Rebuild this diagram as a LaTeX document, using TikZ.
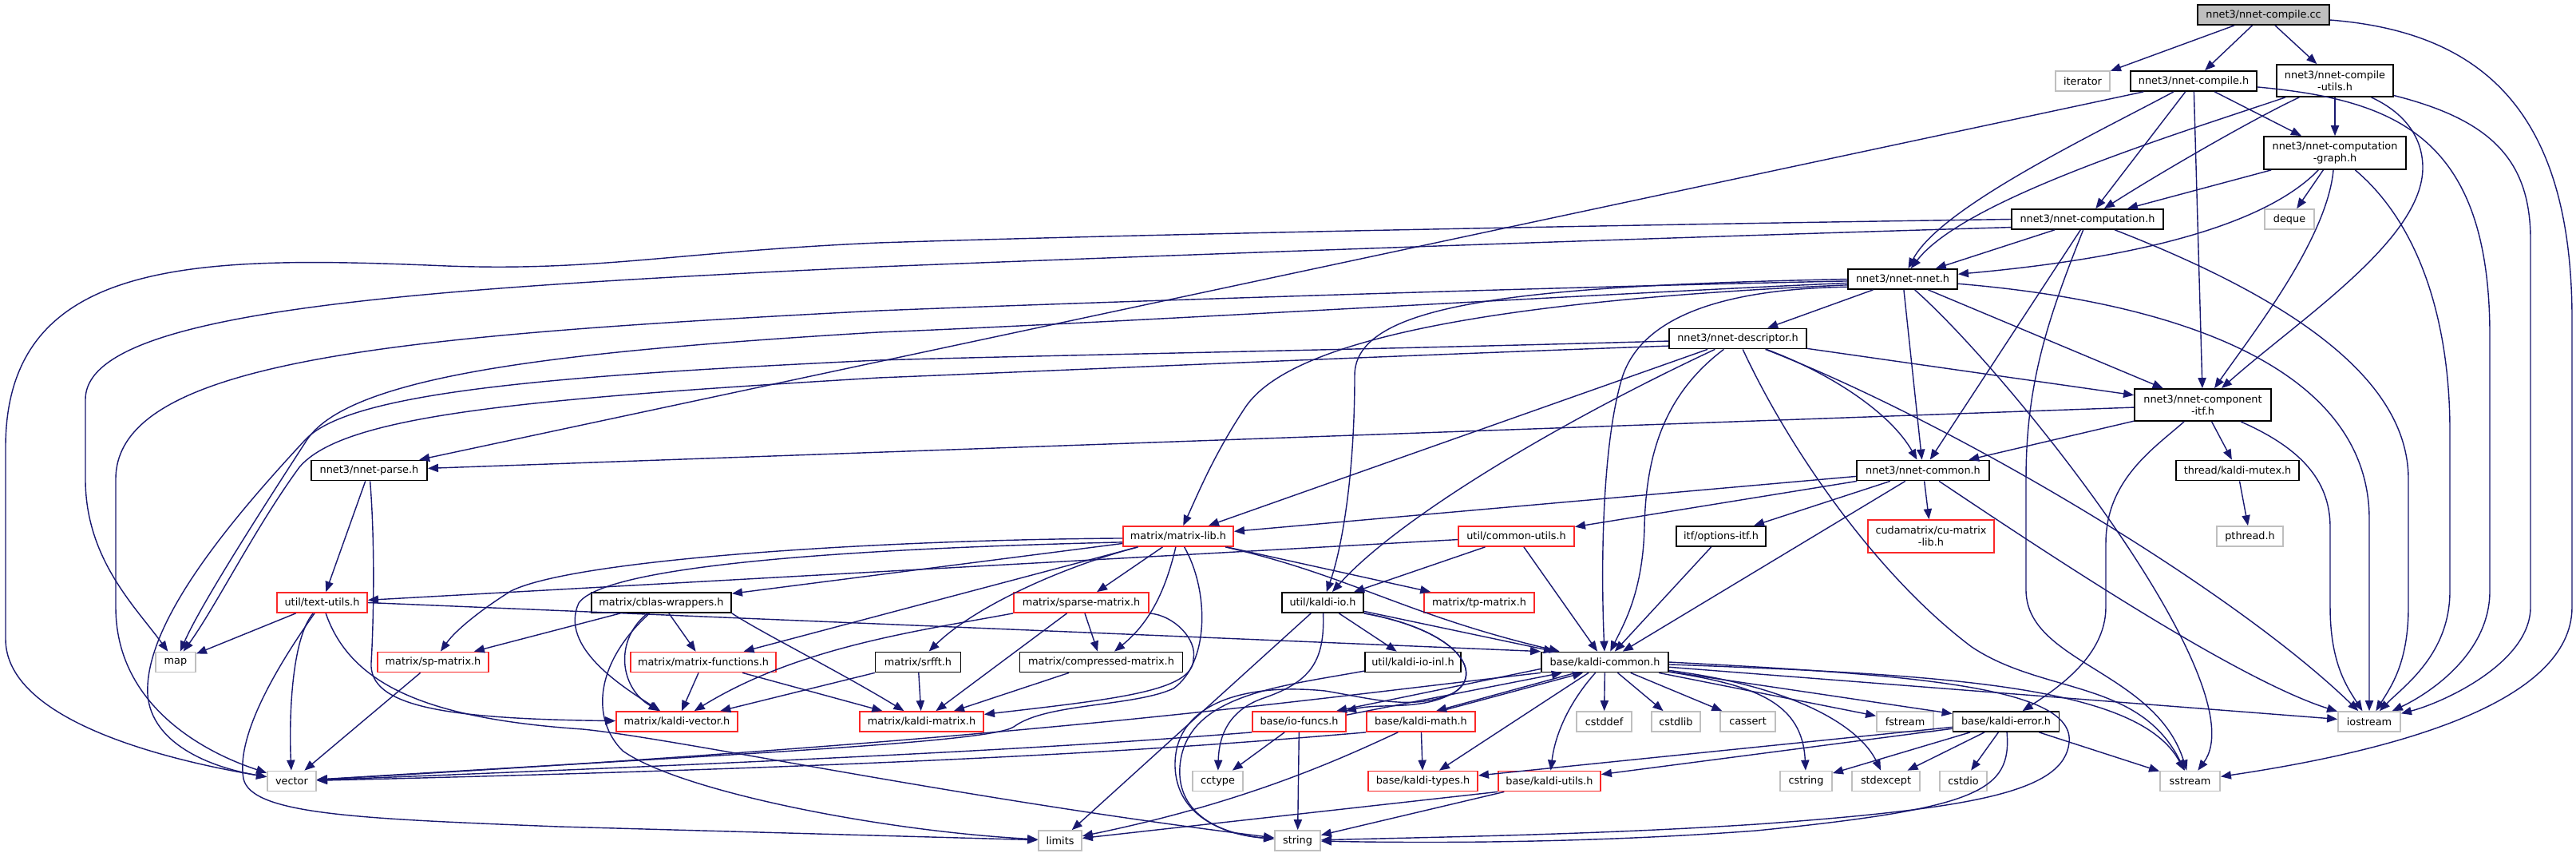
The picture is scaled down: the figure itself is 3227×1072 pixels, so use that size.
\documentclass[tikz,border=0pt]{standalone}
\usepackage{fontspec}
\setmainfont{DejaVu Sans}
\usetikzlibrary{arrows.meta}
\definecolor{edgeblue}{RGB}{25,25,112}
\definecolor{linkred}{RGB}{250,40,40}
\definecolor{sysgray}{RGB}{191,191,191}
\definecolor{rootgray}{RGB}{191,191,191}

\begin{document}
\begin{tikzpicture}[
    x=0.01cm, y=-0.01cm,
    hdr/.style={draw=black, line width=0.5pt, fill=white, minimum height=0.25cm, inner sep=0.8pt, align=center, font=\fontsize{3.65}{4.2}\selectfont},
    redhdr/.style={hdr, draw=linkred},
    sysbox/.style={hdr, draw=sysgray},
    rootbox/.style={hdr, fill=rootgray},
    dep/.style={draw=edgeblue, line width=0.4pt, -{Triangle[length=3.7pt,width=2.9pt]}}
]
\fill[white] (0,0) rectangle (3227,1072);
\useasboundingbox (0,0) rectangle (3227,1072);

% Files
\node[rootbox, minimum width=1.65cm] (cc) at (2835.5,18.5) {nnet3/nnet-compile.cc};
\node[sysbox, minimum width=0.68cm] (iterator) at (2609,101.5) {iterator};
\node[hdr, minimum width=1.58cm] (compile) at (2748,101.5) {nnet3/nnet-compile.h};
\node[hdr, minimum width=1.46cm, minimum height=0.4cm] (cutils) at (2925,101) {nnet3/nnet-compile\\-utils.h};
\node[hdr, minimum width=1.78cm, minimum height=0.41cm] (cgraph) at (2925,191.5) {nnet3/nnet-computation\\-graph.h};
\node[hdr, minimum width=1.9cm] (computation) at (2615,274.5) {nnet3/nnet-computation.h};
\node[sysbox, minimum width=0.62cm] (deque) at (2868,274.5) {deque};
\node[hdr, minimum width=1.37cm] (nnet) at (2383.5,349.5) {nnet3/nnet-nnet.h};
\node[hdr, minimum width=1.72cm] (descriptor) at (2177,424) {nnet3/nnet-descriptor.h};
\node[hdr, minimum width=1.71cm, minimum height=0.4cm] (compitf) at (2759.5,507) {nnet3/nnet-component\\-itf.h};
\node[hdr, minimum width=1.45cm] (parse) at (462.5,589) {nnet3/nnet-parse.h};
\node[hdr, minimum width=1.66cm] (common) at (2409,589) {nnet3/nnet-common.h};
\node[hdr, minimum width=1.54cm] (mutex) at (2803,589) {thread/kaldi-mutex.h};
\node[redhdr, minimum width=1.38cm] (matrixlib) at (1476,671.5) {matrix/matrix-lib.h};
\node[redhdr, minimum width=1.45cm] (commonutils) at (1899.5,671.5) {util/common-utils.h};
\node[hdr, minimum width=1.12cm] (options) at (2156,671.5) {itf/options-itf.h};
\node[redhdr, minimum width=1.58cm, minimum height=0.41cm] (cumatrix) at (2419,671.5) {cudamatrix/cu-matrix\\-lib.h};
\node[sysbox, minimum width=0.83cm] (pthread) at (2818.5,671.5) {pthread.h};
\node[redhdr, minimum width=1.13cm] (textutils) at (403.5,754.5) {util/text-utils.h};
\node[hdr, minimum width=1.75cm] (cblas) at (828.5,754.5) {matrix/cblas-wrappers.h};
\node[redhdr, minimum width=1.69cm] (sparse) at (1354.5,754.5) {matrix/sparse-matrix.h};
\node[hdr, minimum width=1.02cm] (kaldiio) at (1657,754.5) {util/kaldi-io.h};
\node[redhdr, minimum width=1.38cm] (tpmatrix) at (1853,754.5) {matrix/tp-matrix.h};
\node[sysbox, minimum width=0.5cm] (map) at (220,829) {map};
\node[redhdr, minimum width=1.39cm] (spmatrix) at (542.5,829) {matrix/sp-matrix.h};
\node[redhdr, minimum width=1.82cm] (matfun) at (881,829) {matrix/matrix-functions.h};
\node[hdr, minimum width=1.07cm] (srfft) at (1150,829) {matrix/srfft.h};
\node[hdr, minimum width=2.04cm] (compressed) at (1379.5,829) {matrix/compressed-matrix.h};
\node[hdr, minimum width=1.2cm] (kaldiioinl) at (1770,829) {util/kaldi-io-inl.h};
\node[hdr, minimum width=1.59cm] (kcommon) at (2010.5,829) {base/kaldi-common.h};
\node[redhdr, minimum width=1.52cm] (kvector) at (848,903.5) {matrix/kaldi-vector.h};
\node[redhdr, minimum width=1.55cm] (kmatrix) at (1154.5,903.5) {matrix/kaldi-matrix.h};
\node[redhdr, minimum width=1.17cm] (iofuncs) at (1627.5,903.5) {base/io-funcs.h};
\node[redhdr, minimum width=1.36cm] (kmath) at (1780,903.5) {base/kaldi-math.h};
\node[sysbox, minimum width=0.69cm] (cstddef) at (2009.5,903.5) {cstddef};
\node[sysbox, minimum width=0.61cm] (cstdlib) at (2099.5,903.5) {cstdlib};
\node[sysbox, minimum width=0.69cm] (cassert) at (2189.5,903.5) {cassert};
\node[sysbox, minimum width=0.71cm] (fstream) at (2386.5,903.5) {fstream};
\node[hdr, minimum width=1.33cm] (kerror) at (2513,903.5) {base/kaldi-error.h};
\node[sysbox, minimum width=0.78cm] (iostream) at (2968,903.5) {iostream};
\node[sysbox, minimum width=0.61cm] (vector) at (365.5,978) {vector};
\node[sysbox, minimum width=0.63cm] (cctype) at (1525.5,978) {cctype};
\node[redhdr, minimum width=1.37cm] (ktypes) at (1782.5,978) {base/kaldi-types.h};
\node[redhdr, minimum width=1.28cm] (kutils) at (1941,978) {base/kaldi-utils.h};
\node[sysbox, minimum width=0.65cm] (cstring) at (2262.5,978) {cstring};
\node[sysbox, minimum width=0.85cm] (stdexcept) at (2362.5,978) {stdexcept};
\node[sysbox, minimum width=0.59cm] (cstdio) at (2459.5,978) {cstdio};
\node[sysbox, minimum width=0.75cm] (sstream) at (2743.5,978) {sstream};
\node[sysbox, minimum width=0.54cm] (limits) at (1328,1052.5) {limits};
\node[sysbox, minimum width=0.57cm] (string) at (1625.5,1052.5) {string};

% nnet3/nnet-compile.cc
\draw[dep] (cc) -- (iterator);
\draw[dep] (cc) -- (compile);
\draw[dep] (cc) -- (cutils);
\draw[dep] (cc) .. controls (3110,40) and (3222,140) .. (3222,400) -- (3222,760) .. controls (3222,880) and (3000,940) .. (sstream);

% nnet3/nnet-compile.h
\draw[dep] (compile) -- (parse);
\draw[dep] (compile) .. controls (2620,170) and (2430,260) .. (nnet);
\draw[dep] (compile) -- (computation);
\draw[dep] (compile) -- (cgraph);
\draw[dep] (compile) -- (compitf);
\draw[dep] (compile) .. controls (3000,125) and (3119,170) .. (3119,420) -- (3119,740) .. controls (3119,820) and (3040,870) .. (iostream);

% nnet3/nnet-compile-utils.h
\draw[dep] (cutils) .. controls (2720,170) and (2460,250) .. (nnet);
\draw[dep] (cutils) .. controls (2820,150) and (2700,220) .. (computation);
\draw[dep] (cutils) -- (cgraph);
\draw[dep] (cutils) .. controls (3010,140) and (3035,170) .. (3035,210) .. controls (3035,300) and (2880,400) .. (compitf);
\draw[dep] (cutils) .. controls (3120,150) and (3170,200) .. (3170,300) -- (3170,760) .. controls (3170,830) and (3060,880) .. (iostream);

% nnet3/nnet-computation-graph.h
\draw[dep] (cgraph) -- (computation);
\draw[dep] (cgraph) .. controls (2820,300) and (2600,330) .. (nnet);
\draw[dep] (cgraph) -- (deque);
\draw[dep] (cgraph) .. controls (2915,300) and (2820,420) .. (compitf);
\draw[dep] (cgraph) .. controls (3030,280) and (3069,400) .. (3069,540) -- (3069,740) .. controls (3069,820) and (3010,860) .. (iostream);

% nnet3/nnet-computation.h
\draw[dep] (computation) -- (nnet);
\draw[dep] (computation) -- (common);
\draw[dep] (computation) .. controls (2565,400) and (2538,480) .. (2538,600) -- (2538,740) .. controls (2540,830) and (2700,840) .. (sstream);
\draw[dep] (computation) .. controls (2860,370) and (3017,470) .. (3017,600) -- (3017,760) .. controls (3017,830) and (2995,860) .. (iostream);
\draw[dep] (computation.180) .. controls (2000,282) and (1400,294) .. (1100,304) .. controls (850,315) and (750,340) .. (560,333) .. controls (250,320) and (7,320) .. (7,560) -- (7,800) .. controls (7,900) and (200,950) .. (vector);
\draw[dep] (computation.186) .. controls (2000,300) and (1400,322) .. (1100,334) .. controls (500,362) and (107,390) .. (107,500) -- (107,600) .. controls (107,700) and (170,760) .. (map);

% nnet3/nnet-nnet.h
\draw[dep] (nnet) -- (descriptor);
\draw[dep] (nnet) -- (common);
\draw[dep] (nnet) -- (compitf);
\draw[dep] (nnet) .. controls (2520,470) and (2830,860) .. (sstream);
\draw[dep] (nnet) .. controls (2750,380) and (2968,470) .. (2968,650) -- (iostream);
\draw[dep] (nnet.182) .. controls (2000,358) and (1400,377) .. (1100,389) .. controls (500,420) and (145,450) .. (145,600) -- (145,760) .. controls (145,880) and (250,940) .. (vector);
\draw[dep] (nnet.184) .. controls (2000,368) and (1400,404) .. (1100,416) .. controls (700,440) and (440,470) .. (385,550) .. controls (320,650) and (250,760) .. (map);
\draw[dep] (nnet.180) .. controls (1900,358) and (1697,380) .. (1697,470) .. controls (1697,600) and (1680,690) .. (kaldiio);
\draw[dep] (nnet.186) .. controls (1900,375) and (1620,420) .. (1560,510) .. controls (1520,570) and (1500,620) .. (matrixlib);
\draw[dep] (nnet.188) .. controls (2150,362) and (2050,400) .. (2030,480) .. controls (2008,560) and (2005,700) .. (kcommon);

% nnet3/nnet-descriptor.h
\draw[dep] (descriptor) .. controls (2300,470) and (2370,520) .. (common);
\draw[dep] (descriptor) .. controls (2240,560) and (2350,720) .. (2470,810) .. controls (2560,870) and (2680,850) .. (sstream);
\draw[dep] (descriptor) .. controls (2450,530) and (2800,740) .. (iostream);
\draw[dep] (descriptor) -- (compitf);
\draw[dep] (descriptor) .. controls (2090,490) and (2062,560) .. (2060,660) .. controls (2058,740) and (2035,780) .. (kcommon);
\draw[dep] (descriptor) -- (matrixlib);
\draw[dep] (descriptor) .. controls (1950,530) and (1750,650) .. (kaldiio);
\draw[dep] (descriptor.182) .. controls (1700,438) and (1300,445) .. (1100,451) .. controls (700,470) and (440,490) .. (383,550) .. controls (290,650) and (180,780) .. (185,870) .. controls (190,930) and (260,960) .. (vector);
\draw[dep] (descriptor.186) .. controls (1700,447) and (1300,465) .. (1100,473) .. controls (650,500) and (430,520) .. (375,585) .. controls (320,660) and (270,760) .. (map);

% nnet3/nnet-component-itf.h
\draw[dep] (compitf) -- (parse);
\draw[dep] (compitf) -- (common);
\draw[dep] (compitf) -- (mutex);
\draw[dep] (compitf) .. controls (2700,560) and (2638,600) .. (2638,680) -- (2638,760) .. controls (2638,820) and (2580,860) .. (kerror);
\draw[dep] (compitf) .. controls (2880,560) and (2919,600) .. (2919,660) -- (2919,760) .. controls (2919,830) and (2940,860) .. (iostream);

% nnet3/nnet-common.h
\draw[dep] (common) -- (matrixlib);
\draw[dep] (common) -- (commonutils);
\draw[dep] (common) -- (options);
\draw[dep] (common) -- (kcommon);
\draw[dep] (common) -- (cumatrix);
\draw[dep] (common) .. controls (2560,690) and (2800,850) .. (iostream);

\draw[dep] (mutex) -- (pthread);

% nnet3/nnet-parse.h
\draw[dep] (parse) -- (textutils);
\draw[dep] (parse) .. controls (470,680) and (468,780) .. (465,830) .. controls (462,885) and (560,900) .. (kvector);

% util/text-utils.h
\draw[dep] (textutils) -- (map);
\draw[dep] (textutils) .. controls (365,800) and (362,900) .. (vector);
\draw[dep] (textutils) .. controls (350,830) and (295,920) .. (305,975) .. controls (315,1020) and (450,1025) .. (700,1035) -- (limits);
\draw[dep] (textutils) .. controls (440,860) and (540,900) .. (730,913) .. controls (850,925) and (1200,1000) .. (string);
\draw[dep] (textutils.east) -- (kcommon.north west);

% util/common-utils.h, itf/options-itf.h
\draw[dep] (commonutils) -- (textutils);
\draw[dep] (commonutils) -- (kaldiio);
\draw[dep] (commonutils) -- (kcommon);
\draw[dep] (options) -- (kcommon);

% matrix/matrix-lib.h
\draw[dep] (matrixlib.182) .. controls (1100,676) and (720,700) .. (640,740) .. controls (600,765) and (570,790) .. (spmatrix);
\draw[dep] (matrixlib.186) .. controls (1100,686) and (760,705) .. (725,755) .. controls (700,810) and (780,860) .. (kvector);
\draw[dep] (matrixlib) -- (cblas);
\draw[dep] (matrixlib) -- (matfun);
\draw[dep] (matrixlib) .. controls (1330,710) and (1220,760) .. (srfft);
\draw[dep] (matrixlib) -- (sparse);
\draw[dep] (matrixlib) .. controls (1460,740) and (1440,780) .. (compressed);
\draw[dep] (matrixlib) -- (tpmatrix);
\draw[dep] (matrixlib) .. controls (1690,720) and (1760,770) .. (kcommon);
\draw[dep] (matrixlib) .. controls (1515,740) and (1515,830) .. (1470,862) .. controls (1420,885) and (1310,880) .. (1270,910) .. controls (1240,930) and (900,945) .. (vector);

% matrix/sparse-matrix.h
\draw[dep] (sparse.south west) .. controls (1150,790) and (1000,810) .. (kvector);
\draw[dep] (sparse) -- (kmatrix);
\draw[dep] (sparse) -- (compressed);
\draw[dep] (sparse.south east) .. controls (1470,770) and (1500,800) .. (1495,825) .. controls (1495,865) and (1400,875) .. (kmatrix);

% matrix/cblas-wrappers.h
\draw[dep] (cblas) -- (spmatrix);
\draw[dep] (cblas) .. controls (770,800) and (775,860) .. (kvector);
\draw[dep] (cblas) -- (matfun);
\draw[dep] (cblas.south east) .. controls (950,790) and (1050,840) .. (kmatrix);
\draw[dep] (cblas) .. controls (745,830) and (740,900) .. (780,940) .. controls (850,990) and (1100,1040) .. (limits);

\draw[dep] (spmatrix) -- (vector);
\draw[dep] (matfun) -- (kvector);
\draw[dep] (matfun) -- (kmatrix);
\draw[dep] (srfft) -- (kvector);
\draw[dep] (srfft) -- (kmatrix);
\draw[dep] (compressed) -- (kmatrix);

% util/kaldi-io.h
\draw[dep] (kaldiio) -- (kaldiioinl);
\draw[dep] (kaldiio) -- (kcommon);
\draw[dep] (kaldiio) -- (limits);
\draw[dep] (kaldiio) .. controls (1660,830) and (1640,855) .. (1580,875) .. controls (1540,890) and (1527,920) .. (cctype);
\draw[dep] (kaldiio.south east) .. controls (1830,790) and (1860,845) .. (1820,868) .. controls (1780,890) and (1730,880) .. (iofuncs);
\draw[dep] (kaldiio.south east) .. controls (1830,790) and (1860,845) .. (1820,868) .. controls (1770,890) and (1720,875) .. (1660,865) .. controls (1560,855) and (1470,880) .. (1472,960) .. controls (1474,1020) and (1530,1045) .. (string);
\draw[dep] (kaldiioinl) .. controls (1600,860) and (1485,870) .. (1478,960) .. controls (1474,1020) and (1530,1045) .. (string);

% base/kaldi-common.h
\draw[dep] (kcommon.186) -- (iofuncs.16);
\draw[dep] (iofuncs.8) -- (kcommon.194);
\draw[dep] (kcommon.200) -- (kmath.35);
\draw[dep] (kmath.28) -- (kcommon.206);
\draw[dep] (kcommon) -- (ktypes);
\draw[dep] (kcommon) .. controls (1965,880) and (1948,920) .. (kutils);
\draw[dep] (kcommon) -- (cstddef);
\draw[dep] (kcommon) -- (cstdlib);
\draw[dep] (kcommon) -- (cassert);
\draw[dep] (kcommon) -- (fstream);
\draw[dep] (kcommon) -- (kerror);
\draw[dep] (kcommon) .. controls (2200,858) and (2258,880) .. (cstring);
\draw[dep] (kcommon) .. controls (2250,860) and (2330,910) .. (stdexcept);
\draw[dep] (kcommon.east) .. controls (2400,845) and (2600,860) .. (2592,930) .. controls (2585,990) and (2480,1012) .. (2200,1032) .. controls (2000,1045) and (1800,1048) .. (string);
\draw[dep] (kcommon) .. controls (2450,845) and (2680,860) .. (sstream);
\draw[dep] (kcommon) -- (iostream);
\draw[dep] (kcommon.south west) .. controls (1600,880) and (1300,925) .. (vector);

% base/io-funcs.h, base/kaldi-math.h, base/kaldi-utils.h
\draw[dep] (iofuncs) -- (cctype);
\draw[dep] (iofuncs) -- (string);
\draw[dep] (iofuncs.south west) .. controls (1400,930) and (1200,945) .. (vector);
\draw[dep] (kmath) -- (ktypes);
\draw[dep] (kmath) .. controls (1680,950) and (1560,1005) .. (limits);
\draw[dep] (kmath.south west) .. controls (1500,935) and (1200,958) .. (vector);
\draw[dep] (kutils.south west) -- (limits);
\draw[dep] (kutils) -- (string);

% base/kaldi-error.h
\draw[dep] (kerror) -- (ktypes);
\draw[dep] (kerror) -- (kutils);
\draw[dep] (kerror) -- (cstring);
\draw[dep] (kerror) -- (stdexcept);
\draw[dep] (kerror) -- (cstdio);
\draw[dep] (kerror) -- (sstream);
\draw[dep] (kerror) .. controls (2520,990) and (2480,1012) .. (2200,1040) .. controls (2000,1055) and (1800,1056) .. (string);
\end{tikzpicture}
\end{document}
